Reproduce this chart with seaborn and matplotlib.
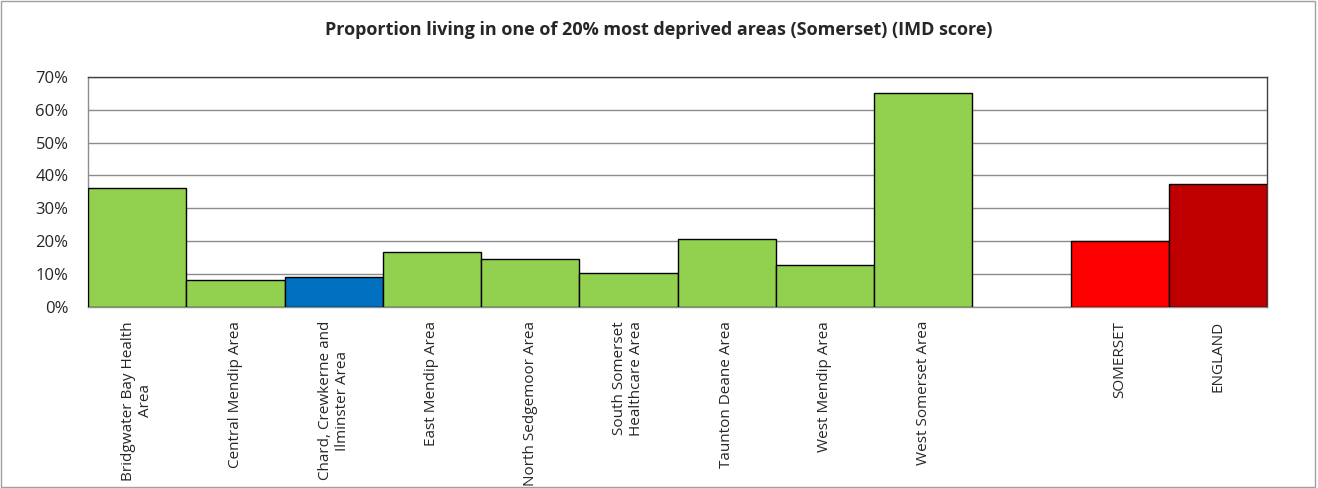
import matplotlib
matplotlib.use("Agg")
import matplotlib.pyplot as plt
import seaborn as sns
import pandas as pd
import numpy as np
from matplotlib.patches import Rectangle
from matplotlib.ticker import FixedLocator, PercentFormatter

categories = [
    "Bridgwater Bay Health\nArea",
    "Central Mendip Area",
    "Chard, Crewkerne and\nIlminster Area",
    "East Mendip Area",
    "North Sedgemoor Area",
    "South Somerset\nHealthcare Area",
    "Taunton Deane Area",
    "West Mendip Area",
    "West Somerset Area",
    " ",
    "SOMERSET",
    "ENGLAND",
]
values = [36.2, 8.1, 9.1, 16.8, 14.5, 10.3, 20.8, 12.8, 65.0, np.nan, 20.2, 37.3]
colors = ["#92d050", "#92d050", "#0070c0", "#92d050", "#92d050", "#92d050",
          "#92d050", "#92d050", "#92d050", "#ffffff", "#ff0000", "#c00000"]
title = "Proportion living in one of 20% most deprived areas (Somerset) (IMD score)"

sns.set_style("white")
plt.rcParams["font.family"] = ["Open Sans", "DejaVu Sans"]

df = pd.DataFrame({"cat": categories, "val": values})

fig = plt.figure(figsize=(13.18, 4.88), dpi=100)
ax = fig.add_axes([0.0668, 0.3709, 0.8945, 0.4719])

sns.barplot(data=df, x="cat", y="val", hue="cat", order=categories,
            palette=dict(zip(categories, colors)), width=1.0, saturation=1,
            edgecolor="black", linewidth=1.0, legend=False, ax=ax, zorder=3)

ax.set_ylim(0, 70)
ax.set_xlim(-0.5, len(categories) - 0.5)
ax.yaxis.set_major_locator(FixedLocator(np.arange(0, 71, 10)))
ax.yaxis.set_major_formatter(PercentFormatter(decimals=0))
ax.grid(axis="y", color="#8c8c8c", linewidth=1.0, zorder=0)
ax.set_axisbelow(True)
ax.set_xlabel("")
ax.set_ylabel("")

ax.set_xticks(range(len(categories)))
ax.set_xticklabels(categories, rotation=90, fontsize=11, va="top", ha="center",
                   multialignment="center")
ax.tick_params(axis="x", which="major", length=0, pad=10)
ax.set_xticks(np.arange(-0.5, len(categories), 1), minor=True)
ax.tick_params(axis="x", which="minor", length=5, color="#8c8c8c", width=1)
ax.tick_params(axis="y", which="major", length=5, color="#8c8c8c", width=1,
               labelsize=12, pad=9)

for s in ["left", "bottom"]:
    ax.spines[s].set_color("#8c8c8c")
    ax.spines[s].set_linewidth(1.0)
for s in ["top", "right"]:
    ax.spines[s].set_color("#404040")
    ax.spines[s].set_linewidth(1.0)

fig.text(0.5, 0.938, title, ha="center", va="center", fontsize=13, fontweight="bold")

fig.patches.append(Rectangle((0.001, 0.002), 0.997, 0.995, transform=fig.transFigure,
                             fill=False, edgecolor="#a0a0a0", linewidth=1.0))

fig.savefig("out.png", dpi=100)
